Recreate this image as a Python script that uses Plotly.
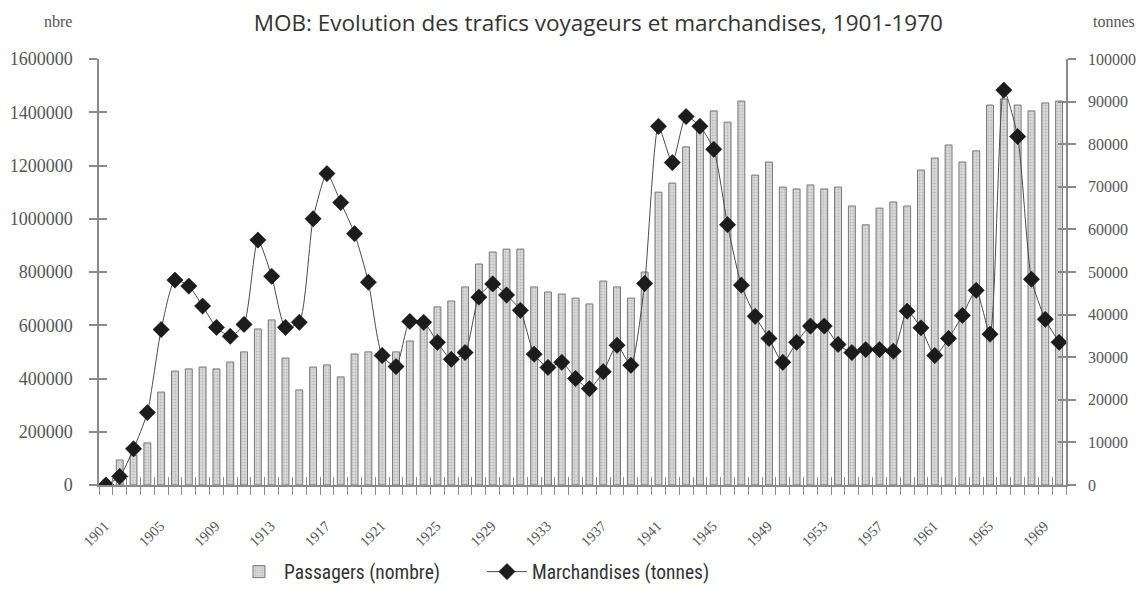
import plotly.graph_objects as go

# ---------------------------------------------------------
# DATA
# ---------------------------------------------------------
years = list(range(1901, 1971))

passagers = [
    0, 94000, 112000, 158000, 349000, 428000, 436000, 443000, 436000, 462000,
    500000, 586000, 620000, 477000, 357000, 443000, 451000, 406000, 492000, 500000,
    495000, 500000, 541000, 595000, 669000, 691000, 744000, 830000, 875000, 886000,
    886000, 744000, 725000, 717000, 702000, 680000, 766000, 744000, 702000, 800000,
    1100000, 1134000, 1270000, 1340000, 1405000, 1363000, 1442000, 1164000, 1213000, 1119000,
    1112000, 1127000, 1112000, 1119000, 1048000, 977000, 1040000, 1063000, 1048000, 1183000,
    1228000, 1277000, 1213000, 1255000, 1427000, 1450000, 1427000, 1405000, 1435000, 1442000,
]

marchandises = [
    0, 2000, 8500, 17000, 36500, 48100, 46700, 42000, 37000, 34900,
    37700, 57500, 49000, 37000, 38200, 62500, 73100, 66300, 59000, 47600,
    30400, 27800, 38400, 38200, 33500, 29500, 31100, 44100, 47200, 44600,
    41000, 30700, 27600, 28800, 25000, 22600, 26600, 32800, 28100, 47300,
    84200, 75700, 86500, 84200, 78800, 61100, 46900, 39600, 34400, 28800,
    33500, 37300, 37300, 33000, 31100, 31800, 31800, 31400, 40800, 36900,
    30400, 34400, 39800, 45700, 35400, 92700, 81800, 48300, 38900, 33500,
]

label_years = list(range(1901, 1970, 4))
left_ticks = list(range(0, 1600001, 200000))
right_ticks = list(range(0, 100001, 10000))

# ---------------------------------------------------------
# STYLE
# ---------------------------------------------------------
SERIF = "Liberation Serif, Times New Roman, serif"
TITLE_FONT = "Open Sans, Liberation Sans, sans-serif"
LEGEND_FONT = "Liberation Sans Narrow, Roboto Condensed, Liberation Sans, sans-serif"
GREY = "#8a8a8a"
TEXT = "#555555"

# page body keeps its 8px default margin, so the figure is sized to fit inside it
FIG_W, FIG_H = 1131, 585

boundaries = [y - 0.5 for y in years] + [years[-1] + 0.5]
x_range = [boundaries[0], boundaries[-1]]

# ---------------------------------------------------------
# FIGURE
# ---------------------------------------------------------
fig = go.Figure()

fig.add_trace(go.Bar(
    x=years, y=passagers, name="Passagers (nombre)", width=0.5,
    marker=dict(
        color="#d6d6d6",
        line=dict(color="#777777", width=1),
        pattern=dict(shape=".", fgcolor="#9a9a9a", bgcolor="#dadada", size=3, solidity=0.3),
    ),
    xaxis="x", yaxis="y",
))

fig.add_trace(go.Scatter(
    x=years, y=marchandises, name="Marchandises (tonnes)", mode="lines+markers",
    line=dict(color="#4a4a4a", width=1, shape="spline", smoothing=0.6),
    marker=dict(symbol="diamond", size=12.5, color="#1c1c1c", line=dict(color="#000000", width=0.5)),
    xaxis="x2", yaxis="y2",
))

# empty helpers so the inner half of the crossing y ticks is drawn
for ax in ["y3", "y4"]:
    fig.add_trace(go.Scatter(x=[None], y=[None], xaxis="x", yaxis=ax,
                             showlegend=False, hoverinfo="skip"))

fig.update_layout(
    width=FIG_W, height=FIG_H,
    paper_bgcolor="white", plot_bgcolor="white",
    margin=dict(l=91, r=73, t=51, b=108, autoexpand=False),
    title=dict(
        text="MOB: Evolution des trafics voyageurs et marchandises, 1901-1970",
        x=0.522, xref="container", xanchor="center",
        y=0.974, yref="container", yanchor="middle",
        font=dict(family=TITLE_FONT, size=22.5, color="#333333"),
    ),
    showlegend=True,
    legend=dict(
        orientation="h", xref="container", yref="container",
        x=0.1998, xanchor="left", y=0.036, yanchor="middle",
        font=dict(family=LEGEND_FONT, size=19.5, color="#333333"),
        itemwidth=40, entrywidth=193, bgcolor="rgba(0,0,0,0)",
    ),
    xaxis=dict(
        range=x_range, tickmode="array", tickvals=label_years,
        ticktext=[str(y) for y in label_years], ticks="", tickangle=-45,
        ticklabelstandoff=25, ticklabelshift=-1, automargin=False,
        tickfont=dict(family=SERIF, size=14.5, color=TEXT),
        minor=dict(tickmode="array", tickvals=boundaries, ticks="outside",
                   ticklen=8, tickcolor=GREY, tickwidth=1, showgrid=False),
        showline=True, linecolor=GREY, linewidth=1.5,
        showgrid=False, zeroline=False, anchor="y",
    ),
    xaxis2=dict(
        range=x_range, overlaying="x", anchor="y2", side="bottom",
        tickmode="array", tickvals=boundaries, ticks="inside", ticklen=8,
        tickcolor=GREY, tickwidth=1, showticklabels=False, automargin=False,
        showline=False, showgrid=False, zeroline=False,
    ),
    yaxis=dict(
        range=[0, 1600000], tickmode="array", tickvals=left_ticks, tickformat="d",
        ticks="outside", ticklen=8, tickcolor=GREY, tickwidth=1.5,
        ticklabelstandoff=13, automargin=False,
        tickfont=dict(family=SERIF, size=18, color=TEXT),
        showline=True, linecolor=GREY, linewidth=1.5,
        showgrid=False, zeroline=False,
    ),
    yaxis2=dict(
        range=[0, 100000], overlaying="y", side="right", anchor="x",
        tickmode="array", tickvals=right_ticks, tickformat="d",
        ticks="outside", ticklen=8, tickcolor=GREY, tickwidth=1.5,
        ticklabelstandoff=9, automargin=False,
        tickfont=dict(family=SERIF, size=16, color=TEXT),
        showline=True, linecolor=GREY, linewidth=1.5,
        showgrid=False, zeroline=False,
    ),
    yaxis3=dict(
        range=[0, 1600000], overlaying="y", side="left", anchor="x",
        tickmode="array", tickvals=left_ticks, ticks="inside", ticklen=8,
        tickcolor=GREY, tickwidth=1.5, showticklabels=False, automargin=False,
        showline=False, showgrid=False, zeroline=False,
    ),
    yaxis4=dict(
        range=[0, 100000], overlaying="y", side="right", anchor="x",
        tickmode="array", tickvals=right_ticks, ticks="inside", ticklen=8,
        tickcolor=GREY, tickwidth=1.5, showticklabels=False, automargin=False,
        showline=False, showgrid=False, zeroline=False,
    ),
    annotations=[
        dict(text="nbre", xref="paper", yref="paper", x=-0.042, y=1.087,
             showarrow=False, xanchor="center", yanchor="middle",
             font=dict(family=SERIF, size=16, color=TEXT)),
        dict(text="tonnes", xref="paper", yref="paper", x=1.05, y=1.087,
             showarrow=False, xanchor="center", yanchor="middle",
             font=dict(family=SERIF, size=16, color=TEXT)),
    ],
)

fig.write_html("out.html")
